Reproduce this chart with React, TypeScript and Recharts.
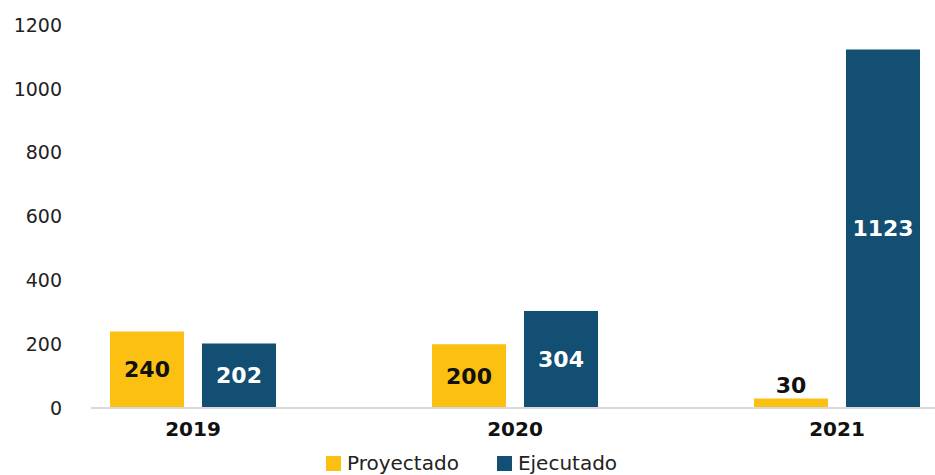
import React from "react";
import { BarChart, Bar, XAxis, YAxis, Legend, LabelList } from "recharts";

const years = ["2019", "2020", "2021"];
const proyectado = [240, 200, 30];
const ejecutado = [202, 304, 1123];
const yTicks = [0, 200, 400, 600, 800, 1000, 1200];
const legendOrder = ["Proyectado", "Ejecutado"];

const YELLOW = "#FBC012";
const BLUE = "#124F72";
const FONT = "'DejaVu Sans', sans-serif";

const data = years.map((year, i) => ({
  year,
  Proyectado: proyectado[i],
  Ejecutado: ejecutado[i],
}));

// label inside the bar, or above it when the bar is too short
const makeLabel = (color: string) => (props: any) => {
  const { x, y, width, height, value } = props;
  const cx = x + width / 2;
  if (height < 40) {
    return (
      <text x={cx} y={y - 5} textAnchor="middle" fill="#111" fontSize={22} fontWeight={700}>
        {value}
      </text>
    );
  }
  return (
    <text x={cx} y={y + height / 2} textAnchor="middle" dominantBaseline="central" fill={color} fontSize={22} fontWeight={700}>
      {value}
    </text>
  );
};

const LegendContent = ({ payload }: any) => {
  const items = [...(payload || [])].sort(
    (a: any, b: any) => legendOrder.indexOf(a.value) - legendOrder.indexOf(b.value)
  );
  return (
    <div style={{ height: 27, display: "flex", alignItems: "flex-start", paddingTop: 6, boxSizing: "border-box", paddingLeft: 326, gap: 38, fontFamily: FONT }}>
      {items.map((p: any) => (
        <div key={p.value} style={{ display: "flex", alignItems: "center", gap: 6, height: 18 }}>
          <div style={{ width: 15, height: 15, background: p.color }} />
          <span style={{ fontSize: 20, color: "#222", lineHeight: "18px" }}>{p.value}</span>
        </div>
      ))}
    </div>
  );
};

export default function App() {
  return (
    <div style={{ position: "absolute", left: 0, top: 0, fontFamily: FONT }}>
      <BarChart width={935} height={475} data={data} margin={{ top: 25, right: 0, bottom: 0, left: 0 }} barSize={74} barGap={18}>
        <XAxis
          dataKey="year"
          padding={{ left: -59, right: -63 }}
          height={40}
          interval={0}
          tickLine={false}
          tickSize={0}
          tickMargin={14}
          axisLine={{ stroke: "#D9D9D9", strokeWidth: 2 }}
          tick={{ fill: "#111", fontSize: 20, fontWeight: 700 }}
        />
        <YAxis
          width={91}
          domain={[0, 1200]}
          ticks={yTicks}
          axisLine={false}
          tickLine={false}
          tickSize={0}
          tickMargin={29}
          tick={{ fill: "#222", fontSize: 19 }}
        />
        <Legend verticalAlign="bottom" content={<LegendContent />} />
        <Bar dataKey="Proyectado" fill={YELLOW} isAnimationActive={false}>
          <LabelList dataKey="Proyectado" content={makeLabel("#111")} />
        </Bar>
        <Bar dataKey="Ejecutado" fill={BLUE} isAnimationActive={false}>
          <LabelList dataKey="Ejecutado" content={makeLabel("#fff")} />
        </Bar>
      </BarChart>
    </div>
  );
}
